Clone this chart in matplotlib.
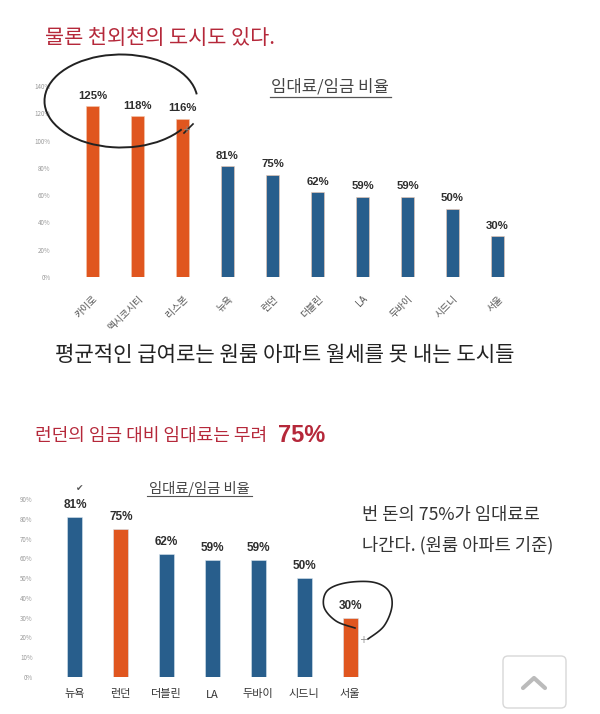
import numpy as np
import matplotlib.pyplot as plt
from matplotlib.patches import Arc, FancyBboxPatch

plt.rcParams['font.family'] = ['Noto Sans CJK KR', 'DejaVu Sans']

# Data
top_cities = ["카이로", "멕시코시티", "리스본", "뉴욕", "런던", "더블린", "LA", "두바이", "시드니", "서울"]
top_ratio = [125, 118, 116, 81, 75, 62, 59, 59, 50, 30]
top_ticks = [0, 20, 40, 60, 80, 100, 120, 140]

bottom_cities = ["뉴욕", "런던", "더블린", "LA", "두바이", "시드니", "서울"]
bottom_ratio = [81, 75, 62, 59, 59, 50, 30]
bottom_ticks = [0, 10, 20, 30, 40, 50, 60, 70, 80, 90]

orange = "#E0561F"
blue = "#285E8C"
W, H = 600, 714

fig = plt.figure(figsize=(6, 7.14), dpi=100)


def px_axes(left, top, right, bottom):
    return fig.add_axes([left / W, 1 - bottom / H, (right - left) / W, (bottom - top) / H])


def smooth(pts, n=12):
    # Catmull-Rom through hand-picked points, for the pen strokes
    p = np.array(pts, dtype=float)
    p = np.vstack([p[0], p, p[-1]])
    out = []
    for i in range(1, len(p) - 2):
        p0, p1, p2, p3 = p[i - 1], p[i], p[i + 1], p[i + 2]
        for t in np.linspace(0, 1, n, endpoint=False):
            out.append(0.5 * ((2 * p1) + (-p0 + p2) * t + (2 * p0 - 5 * p1 + 4 * p2 - p3) * t ** 2
                              + (-p0 + 3 * p1 - 3 * p2 + p3) * t ** 3))
    out.append(p[-2])
    return np.array(out)


# Top chart
ax1 = px_axes(70, 86, 520, 277)
colors1 = [orange if v > 100 else blue for v in top_ratio]
x1 = range(len(top_cities))
ax1.bar(x1, top_ratio, width=0.29, color=colors1, edgecolor="#f3c9b0", linewidth=0.4)
for i, v in enumerate(top_ratio):
    ax1.text(i, v + 4, f"{v}%", ha="center", va="bottom", fontsize=8.2,
             fontweight="bold", color="#2e2e2e", family="Liberation Sans")
ax1.set_xlim(-0.5, len(top_cities) - 0.5)
ax1.set_ylim(0, 140)
ax1.set_yticks(top_ticks)
ax1.set_yticklabels([f"{t}%" for t in top_ticks], fontsize=4.5, color="#9a9a9a")
ax1.set_xticks(list(x1))
ax1.set_xticklabels(top_cities, rotation=45, ha="right", rotation_mode="anchor",
                    fontsize=7, color="#555555")
ax1.tick_params(length=0, pad=12)
ax1.tick_params(axis="y", pad=14)
for s in ax1.spines.values():
    s.set_visible(False)

# Bottom chart
ax2 = px_axes(52, 499, 373, 677)
colors2 = [orange if c in ("런던", "서울") else blue for c in bottom_cities]
x2 = range(len(bottom_cities))
ax2.bar(x2, bottom_ratio, width=0.33, color=colors2, edgecolor="#d9e4ee", linewidth=0.4)
for i, v in enumerate(bottom_ratio):
    ax2.text(i, v + 3, f"{v}%", ha="center", va="bottom", fontsize=8.5,
             fontweight="bold", color="#2e2e2e", family="Liberation Sans")
ax2.set_xlim(-0.5, len(bottom_cities) - 0.5)
ax2.set_ylim(0, 90)
ax2.set_yticks(bottom_ticks)
ax2.set_yticklabels([f"{t}%" for t in bottom_ticks], fontsize=4.5, color="#9a9a9a")
ax2.set_xticks(list(x2))
ax2.set_xticklabels(bottom_cities, fontsize=8, color="#333333")
ax2.tick_params(length=0, pad=9)
ax2.tick_params(axis="y", pad=14)
for s in ax2.spines.values():
    s.set_visible(False)

# Overlay for slide texts and annotations (pixel coords)
ov = fig.add_axes([0, 0, 1, 1])
ov.set_xlim(0, W)
ov.set_ylim(H, 0)
ov.axis("off")
ov.patch.set_alpha(0)

ov.text(45, 38, "물론 천외천의 도시도 있다.", fontsize=15, color="#B5283A", va="center")
ov.text(330, 87, "임대료/임금 비율", fontsize=12, color="#444444", ha="center", va="center")
ov.plot([270, 391], [97, 97], color="#555555", lw=0.9)
ov.text(55, 355, "평균적인 급여로는 원룸 아파트 월세를 못 내는 도시들", fontsize=15.2,
        color="#222222", va="center")

ov.text(35, 436, "런던의 임금 대비 임대료는 무려 ", fontsize=13, color="#B5283A", va="center")
ov.text(278, 435, "75%", fontsize=17, color="#B5283A", va="center", fontweight="bold",
        family="Liberation Sans")
ov.text(199, 488, "임대료/임금 비율", fontsize=10.3, color="#444444", ha="center", va="center")
ov.plot([147, 252], [496, 496], color="#555555", lw=0.8)
ov.text(80, 488, "✔", fontsize=6.5, color="#555555", ha="center", va="center", family="DejaVu Sans")
ov.text(362, 515, "번 돈의 75%가 임대료로", fontsize=12.7, color="#333333", va="center")
ov.text(362, 545, "나간다. (원룸 아파트 기준)", fontsize=12.7, color="#333333", va="center")

# Hand-drawn circles
ov.add_patch(Arc((121, 101), 153, 93, angle=0, theta1=25, theta2=355, color="#222222", lw=1.4))
ov.plot([193, 188, 184], [124, 129, 133], color="#222222", lw=1.2)
loop = smooth([(355, 628), (336, 621), (324, 607), (327, 591), (345, 583), (372, 582),
               (388, 590), (392, 606), (384, 626), (368, 639)])
ov.plot(loop[:, 0], loop[:, 1], color="#222222", lw=1.2)
ov.text(186, 130, "+", fontsize=7, color="#888888", ha="center", va="center", family="DejaVu Sans")
ov.text(363, 640, "+", fontsize=7, color="#888888", ha="center", va="center", family="DejaVu Sans")

# Scroll-to-top button
ov.add_patch(FancyBboxPatch((503, 656), 63, 52, boxstyle="round,pad=0,rounding_size=5",
                            facecolor="white", edgecolor="#d8d8d8", lw=1.0))
ov.plot([523, 534, 545], [688, 678, 688], color="#bbbbbb", lw=3, solid_capstyle="round")

fig.savefig("out.png", dpi=100, facecolor="white")
